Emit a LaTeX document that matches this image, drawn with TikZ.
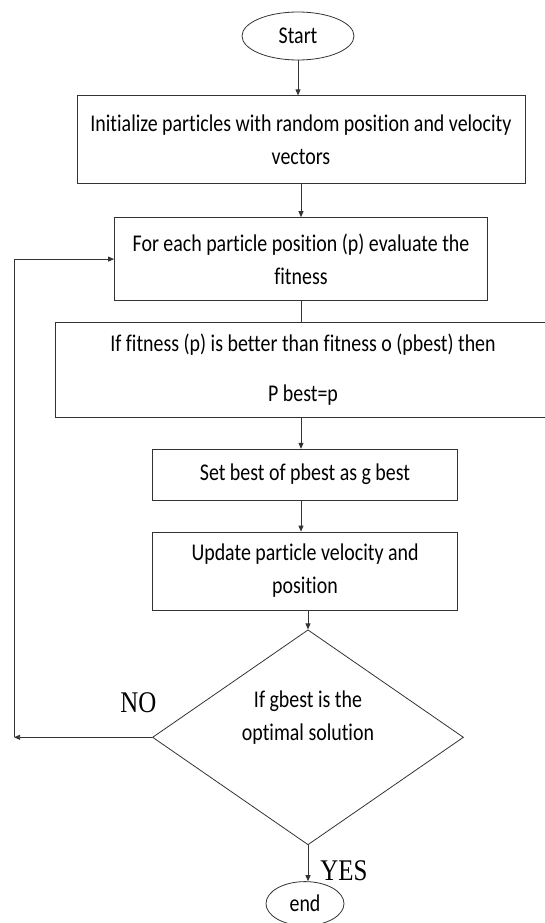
\documentclass[tikz,border=0pt]{standalone}
\usepackage{fontspec}
\setmainfont{Carlito}[FakeStretch=0.83,Ligatures=NoCommon]
\newfontfamily\labelfont{Liberation Serif}[FakeStretch=0.83]
\usetikzlibrary{arrows.meta,positioning,shapes.geometric}

\begin{document}
\begin{tikzpicture}[x=1pt,y=1pt,
  stepbox/.style={draw=black!80,line width=0.8pt,align=center,
    font=\fontsize{24}{33}\selectfont,inner sep=4pt},
  term/.style={draw=black!80,line width=0.8pt,ellipse,
    font=\fontsize{24}{28}\selectfont,inner sep=0pt},
  decision/.style={draw=black!80,line width=0.8pt,diamond,
    minimum width=311pt,minimum height=215pt,inner sep=0pt},
  yesno/.style={font=\labelfont\fontsize{30}{32}\selectfont,inner sep=0pt},
  arr/.style={-{Triangle[length=6pt,width=5pt]},line width=0.8pt,draw=black!80},
  link/.style={line width=0.8pt,draw=black!80}]
\useasboundingbox (0,0) rectangle (545,-923);
\node[term,minimum width=112pt,minimum height=48pt] (start) at (298,-36) {Start};
\node[stepbox,minimum width=448pt,minimum height=88pt,below=35pt of start,xshift=3pt] (init)
  {Initialize particles with random position and velocity\\vectors};
\node[stepbox,minimum width=373pt,minimum height=83pt,below=33pt of init] (fitness)
  {For each particle position (p) evaluate the\\fitness};
\node[stepbox,minimum width=496pt,minimum height=95pt,below=21pt of fitness,xshift=2pt,
  font=\fontsize{24}{50}\selectfont] (pbest)
  {If fitness (p) is better than fitness o (pbest) then\\P best=p};
\node[stepbox,minimum width=305pt,minimum height=51pt,below=31pt of pbest,xshift=2pt] (gbest)
  {Set best of pbest as g best};
\node[stepbox,minimum width=305pt,minimum height=78pt,below=31pt of gbest] (update)
  {Update particle velocity and\\position};
\node[decision,below=19pt of update,xshift=3pt] (check) {};
\node[stepbox,draw=none,inner sep=0pt] (checktext) at ([yshift=20pt]check.center)
  {If gbest is the\\optimal solution};
\node[term,minimum width=78pt,minimum height=44pt,below=36pt of check,xshift=-3pt] (stop) {end};
\coordinate (back) at ([xshift=-138pt]check.west);

\draw[arr](start.south)--(start.south |- init.north);
\draw[arr](init)--(fitness);
\draw[link](fitness)--(fitness.south |- pbest.north);
\draw[arr](fitness.south |- pbest.south)--(fitness.south |- gbest.north);
\draw[arr](fitness.south |- gbest.south)--(fitness.south |- update.north);
\draw[arr](check.north |- update.south)--(check.north);
\draw[arr](check.south)--(stop.north -| check.south)
  node[yesno,pos=0.7,right=12pt]{YES};
\draw[arr](check.west)--(back)
  node[yesno,pos=0.1,above=24pt]{NO};
\draw[arr](back)|-(fitness.west);
\end{tikzpicture}
\end{document}
